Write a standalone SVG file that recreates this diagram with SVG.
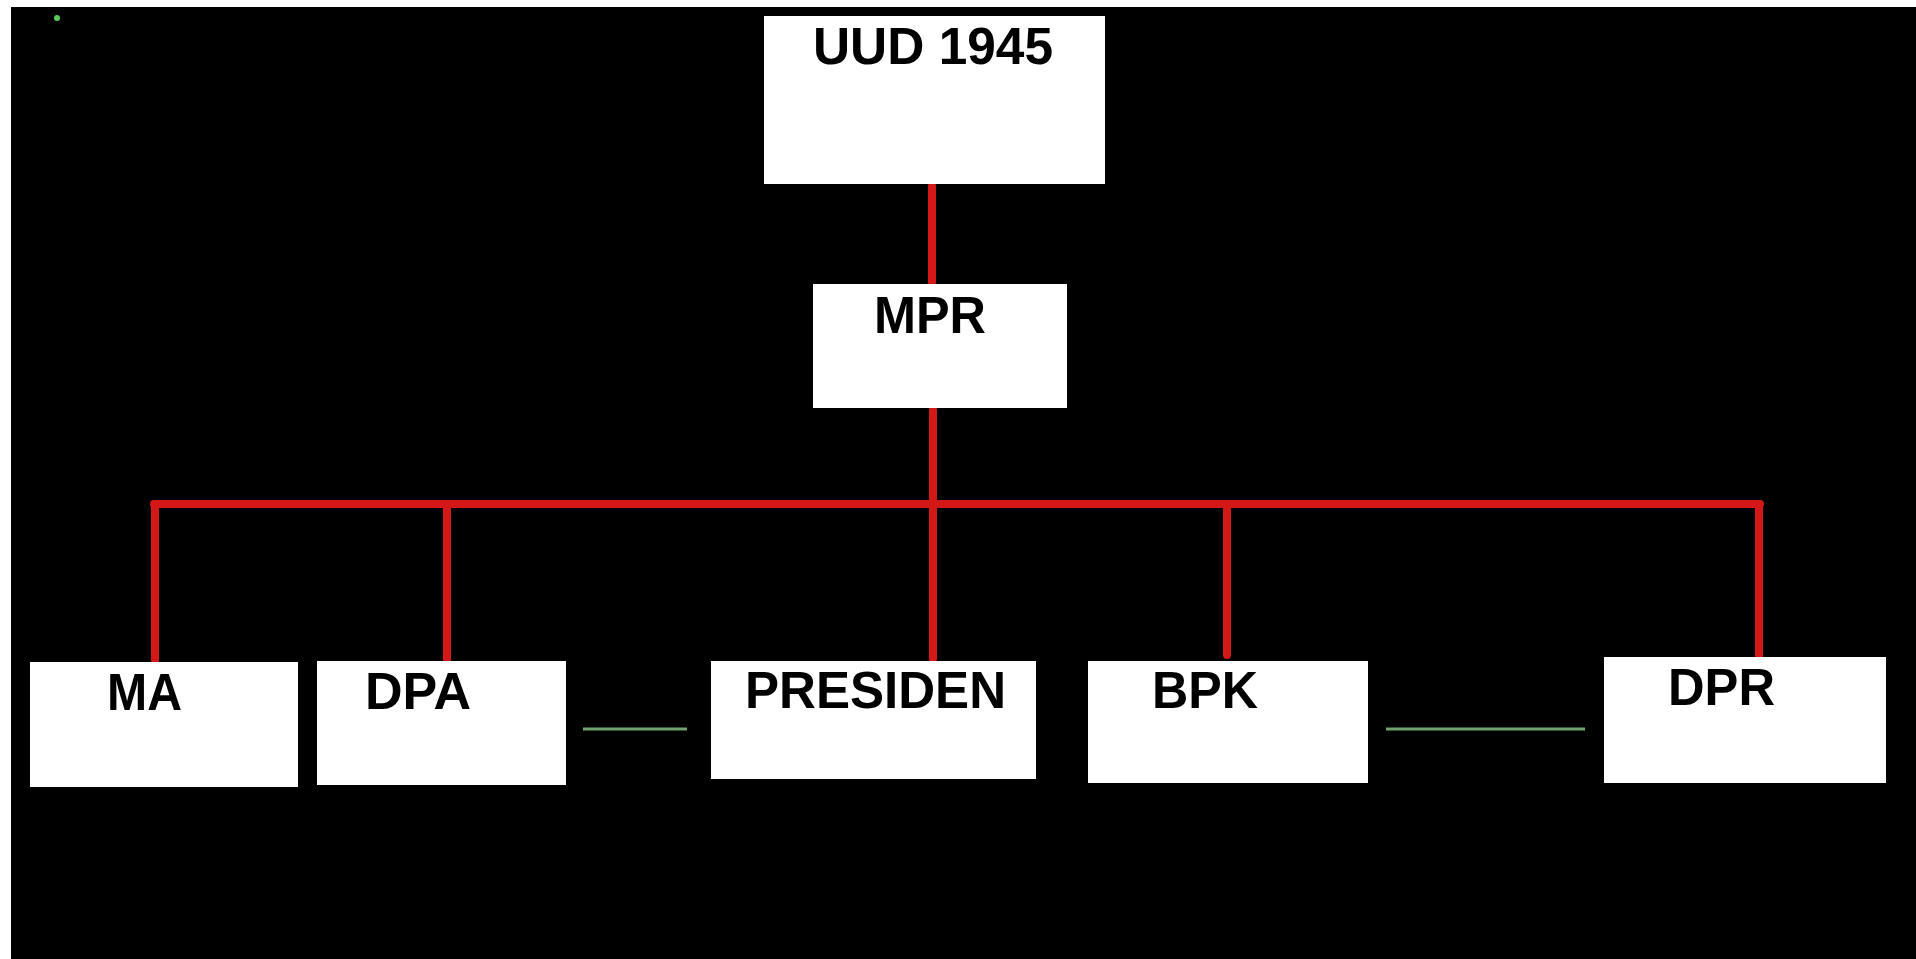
<svg xmlns="http://www.w3.org/2000/svg" width="1916" height="959" viewBox="0 0 1916 959">
  <style>
    .box { fill: #ffffff; }
    .lbl { font-family: "Liberation Sans", Arial, sans-serif; font-weight: bold; font-size: 51px; fill: #000000; }
    .red { stroke: #d41717; stroke-width: 8; fill: none; stroke-linecap: round; }
    .green { stroke: #6fa36f; stroke-width: 3; fill: none; }
  </style>
  <rect x="0" y="0" width="1916" height="959" fill="#ffffff"/>
  <rect x="11" y="7" width="1905" height="952" fill="#000000"/>
  <circle cx="57" cy="18" r="3" fill="#5cc85c"/>

  <g id="connectors">
    <line class="red" x1="932" y1="186" x2="932" y2="282"/>
    <line class="red" x1="933" y1="410" x2="933" y2="659"/>
    <line class="red" x1="154" y1="504" x2="1760" y2="504"/>
    <line class="red" x1="155" y1="504" x2="155" y2="660"/>
    <line class="red" x1="447" y1="504" x2="447" y2="659"/>
    <line class="red" x1="1227" y1="504" x2="1227" y2="655"/>
    <line class="red" x1="1759" y1="504" x2="1759" y2="655"/>
    <line class="green" x1="583" y1="729" x2="687" y2="729"/>
    <line class="green" x1="1386" y1="729" x2="1585" y2="729"/>
  </g>

  <g id="uud1945">
    <rect class="box" x="764" y="16" width="341" height="168"/>
    <text class="lbl" x="813" y="64" textLength="240" lengthAdjust="spacingAndGlyphs">UUD 1945</text>
  </g>
  <g id="mpr">
    <rect class="box" x="813" y="284" width="254" height="124"/>
    <text class="lbl" x="874" y="333" textLength="112" lengthAdjust="spacingAndGlyphs">MPR</text>
  </g>
  <g id="ma">
    <rect class="box" x="30" y="662" width="268" height="125"/>
    <text class="lbl" x="107" y="710" textLength="75" lengthAdjust="spacingAndGlyphs">MA</text>
  </g>
  <g id="dpa">
    <rect class="box" x="317" y="661" width="249" height="124"/>
    <text class="lbl" x="365" y="709" textLength="106" lengthAdjust="spacingAndGlyphs">DPA</text>
  </g>
  <g id="presiden">
    <rect class="box" x="711" y="661" width="325" height="118"/>
    <text class="lbl" x="745" y="708" textLength="261" lengthAdjust="spacingAndGlyphs">PRESIDEN</text>
  </g>
  <g id="bpk">
    <rect class="box" x="1088" y="661" width="280" height="122"/>
    <text class="lbl" x="1152" y="708" textLength="106" lengthAdjust="spacingAndGlyphs">BPK</text>
  </g>
  <g id="dpr">
    <rect class="box" x="1604" y="657" width="282" height="126"/>
    <text class="lbl" x="1668" y="705" textLength="107" lengthAdjust="spacingAndGlyphs">DPR</text>
  </g>
</svg>
